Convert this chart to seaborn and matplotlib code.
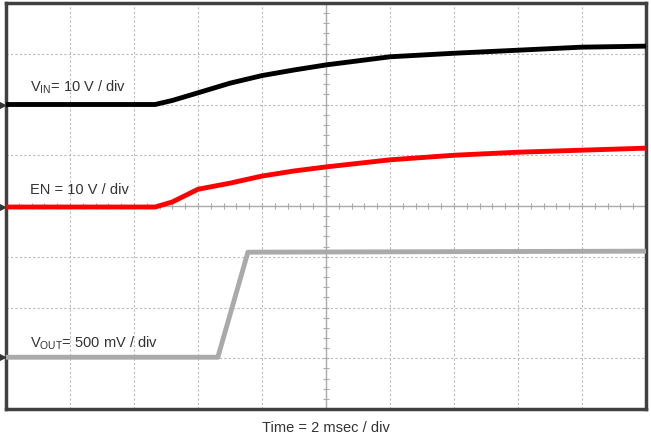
import numpy as np
import pandas as pd
import matplotlib.pyplot as plt
import seaborn as sns

# time in divisions (2 ms / div), level in divisions from bottom of screen
vin_t = [0.0, 2.33, 2.6, 3.0, 3.5, 4.0, 4.5, 5.0, 6.0, 7.0, 8.0, 9.0, 10.0]
vin_v = [6.0, 6.0, 6.08, 6.23, 6.42, 6.57, 6.68, 6.78, 6.94, 7.01, 7.07, 7.13, 7.15]

en_t = [0.0, 2.33, 2.6, 3.0, 3.5, 4.0, 4.5, 5.0, 6.0, 7.0, 8.0, 9.0, 10.0]
en_v = [3.98, 3.98, 4.08, 4.33, 4.45, 4.59, 4.69, 4.77, 4.91, 5.0, 5.06, 5.10, 5.14]

vout_t = [0.0, 3.31, 3.78, 10.0]
vout_v = [1.02, 1.02, 3.09, 3.11]

labels = [r'V$_{\mathregular{IN}}$= 10 V / div', 'EN = 10 V / div',
          r'V$_{\mathregular{OUT}}$= 500 mV / div']
label_y = [6.35, 4.32, 1.30]
colors = ['black', '#ff0000', '#aaaaaa']

sns.set_style('white')
plt.rcParams['font.family'] = ['Liberation Sans', 'DejaVu Sans']
plt.rcParams['mathtext.fontset'] = 'custom'
plt.rcParams['mathtext.rm'] = 'Liberation Sans'

fig = plt.figure(figsize=(6.51, 4.34), dpi=100)
ax = fig.add_axes([6 / 651, 25 / 434, 640 / 651, 406 / 434])

# graticule
for x in range(1, 10):
    if x == 5:
        continue
    ax.axvline(x, color='#bbbbbb', lw=0.8, ls=(0, (2, 2)), zorder=0)
for y in range(1, 8):
    if y == 4:
        continue
    ax.axhline(y, color='#bbbbbb', lw=0.8, ls=(0, (2, 2)), zorder=0)
ax.axvline(5, color='#aaaaaa', lw=1.0, zorder=0)
ax.axhline(4, color='#aaaaaa', lw=1.0, zorder=0)
minor_x = np.arange(0, 10.01, 0.2)
minor_y = np.arange(0, 8.01, 0.2)
ax.plot(minor_x, np.full_like(minor_x, 4), ls='none', marker='|', ms=4,
        color='#aaaaaa', mew=0.8, zorder=0)
ax.plot(np.full_like(minor_y, 5), minor_y, ls='none', marker='_', ms=4,
        color='#aaaaaa', mew=0.8, zorder=0)

traces = [(vin_t, vin_v), (en_t, en_v), (vout_t, vout_v)]
for (t, v), c in zip(traces, colors):
    df = pd.DataFrame({'t': t, 'v': v})
    sns.lineplot(data=df, x='t', y='v', ax=ax, color=c, lw=3.5, zorder=3)

for txt, y in zip(labels, label_y):
    ax.text(0.38, y, txt, fontsize=10.5, color='#333333', va='center', ha='left')

# ground markers on left edge
for (t, v) in traces:
    ax.plot(-0.06, v[0], marker='>', ms=4, color='#333333', clip_on=False,
            zorder=5)

ax.set_xlim(0, 10)
ax.set_ylim(0, 8)
ax.set_xticks([])
ax.set_yticks([])
ax.set_xlabel('')
ax.set_ylabel('')
for s in ax.spines.values():
    s.set_color('#404040')
    s.set_linewidth(2.5)

fig.text(326 / 651, 1 - 428 / 434, 'Time = 2 msec / div', ha='center',
         va='center', fontsize=10.5, color='#333333')

fig.savefig('out.png', dpi=100)
